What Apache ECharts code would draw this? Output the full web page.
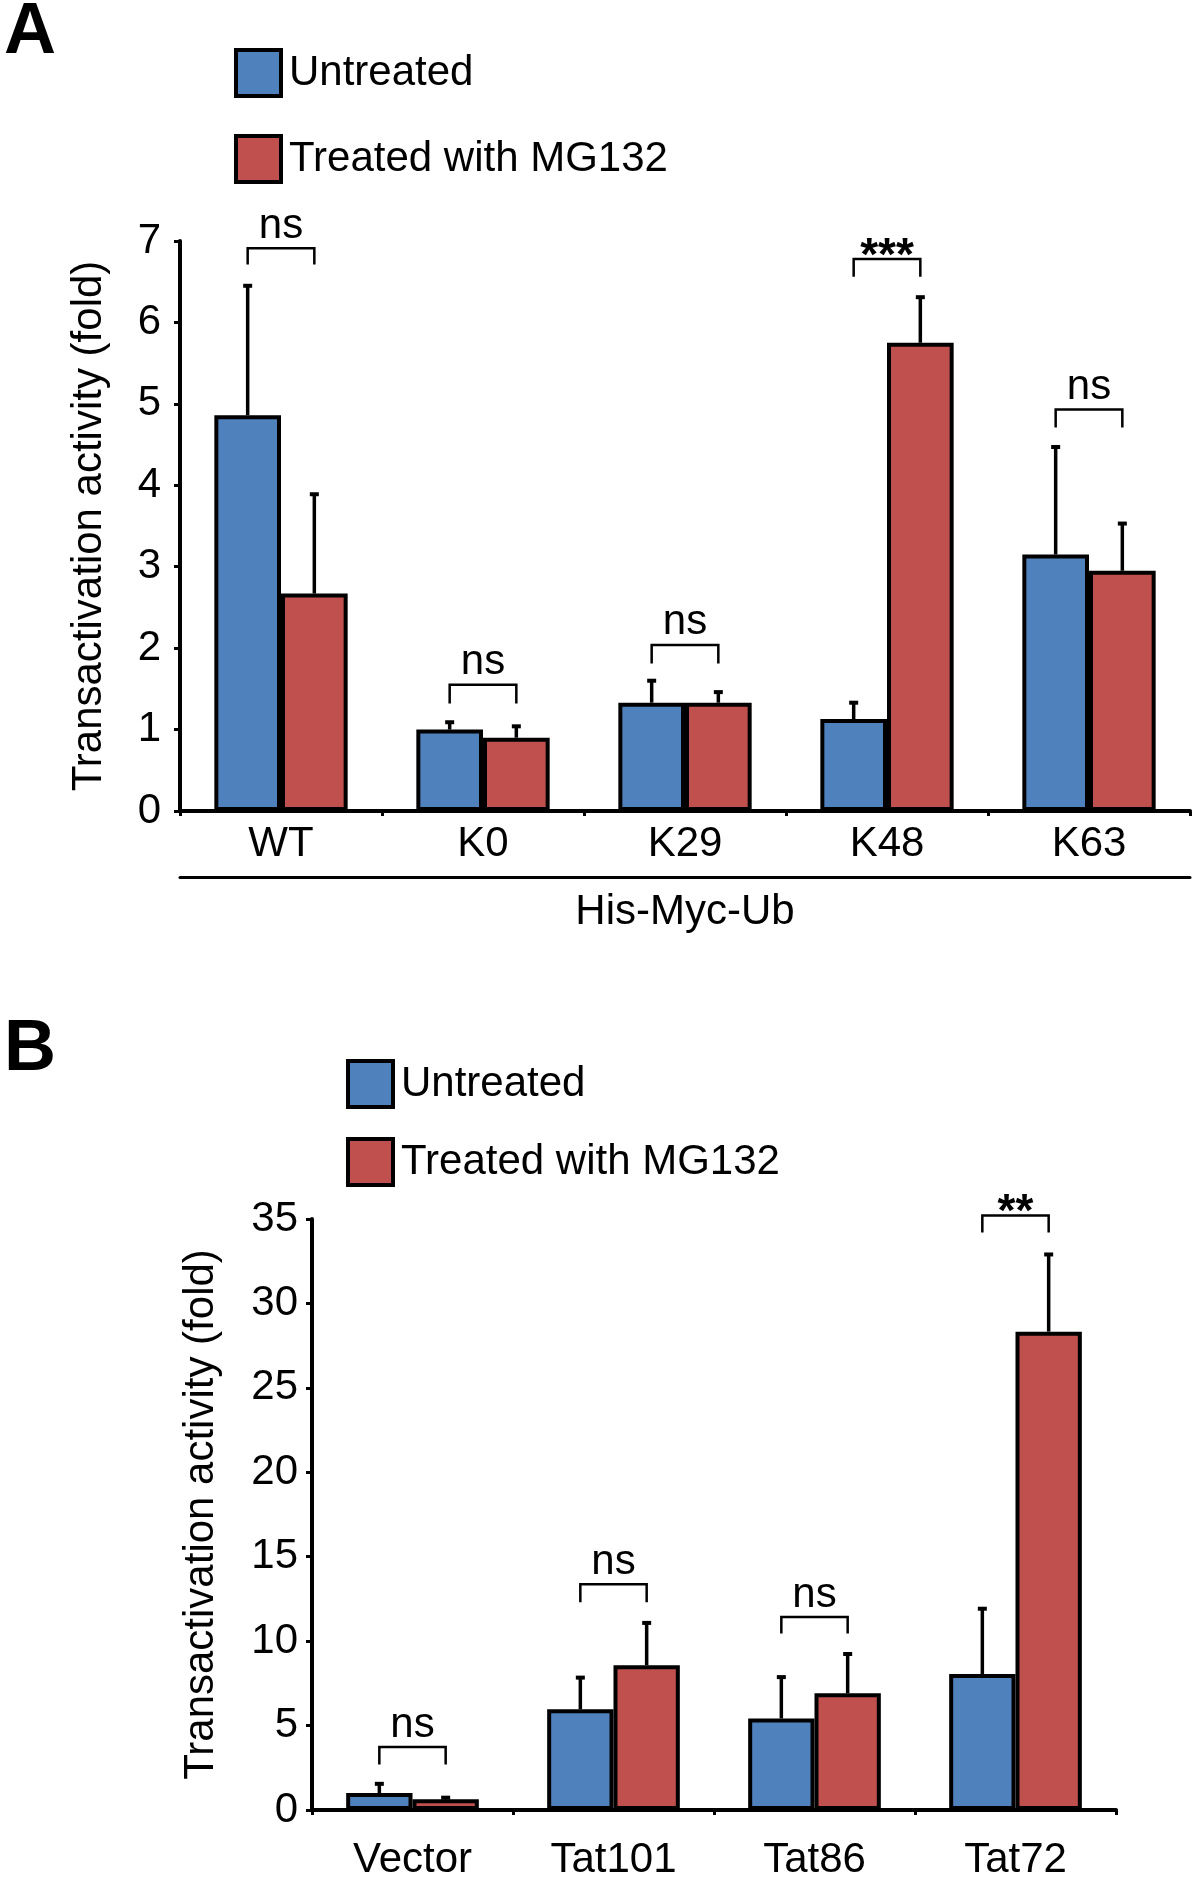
<!DOCTYPE html>
<html>
<head>
<meta charset="utf-8">
<script src="https://cdn.jsdelivr.net/npm/echarts@6/dist/echarts.min.js"></script>
<style>
html,body{margin:0;padding:0;background:#fff;}
#chart{width:1200px;height:1884px;}
</style>
</head>
<body>
<div id="chart"></div>
<script>
// ---------- Panel A data ----------
const catsA = ['WT', 'K0', 'K29', 'K48', 'K63'];
const untreatedA = [4.86, 1.00, 1.33, 1.13, 3.15];
const treatedA = [2.67, 0.90, 1.33, 5.75, 2.95];
const untreatedErrA = [1.59, 0.09, 0.27, 0.20, 1.32];
const treatedErrA = [1.22, 0.14, 0.13, 0.56, 0.58];
const sigA = ['ns', 'ns', 'ns', '***', 'ns'];
const bracketTopA = [6.91, 1.55, 2.04, 6.78, 4.93];
const bracketLegA = [6.71, 1.32, 1.81, 6.56, 4.71];

// ---------- Panel B data ----------
const catsB = ['Vector', 'Tat101', 'Tat86', 'Tat72'];
const untreatedB = [1.00, 5.96, 5.42, 8.05];
const treatedB = [0.63, 8.57, 6.91, 28.33];
const untreatedErrB = [0.55, 1.88, 2.45, 3.87];
const treatedErrB = [0.10, 2.51, 2.33, 4.57];
const sigB = ['ns', 'ns', 'ns', '**'];
const bracketTopB = [3.73, 13.37, 11.43, 35.2];
const bracketLegB = [2.69, 12.30, 10.45, 34.2];

const seriesNames = ['Untreated', 'Treated with MG132'];
const yTitle = 'Transactivation activity (fold)';
const groupTitle = 'His-Myc-Ub';

const BLUE = '#4F81BD', RED = '#C0504D';
const FONT = '"Liberation Sans", Arial, sans-serif';
const FS = 42;
const HALF_OFFSET = 0.165; // bar centre offset as a fraction of band width

function errData(u, ue, t, te) {
  const d = [];
  u.forEach((v, i) => d.push([i, v, ue[i], 0]));
  t.forEach((v, i) => d.push([i, v, te[i], 1]));
  return d;
}
function bracketData(top, leg) {
  return top.map((v, i) => [i, v, leg[i]]);
}
function errRender(params, api) {
  const i = api.value(0), v = api.value(1), e = api.value(2), side = api.value(3);
  const band = api.size([1, 0])[0];
  const c = api.coord([i, v]);
  const t = api.coord([i, v + e]);
  const x = c[0] + (side === 0 ? -1 : 1) * band * HALF_OFFSET;
  return {
    type: 'group',
    children: [
      { type: 'line', shape: { x1: x, y1: c[1], x2: x, y2: t[1] }, style: { stroke: '#000', lineWidth: 3.5 } },
      { type: 'line', shape: { x1: x - 4.5, y1: t[1], x2: x + 4.5, y2: t[1] }, style: { stroke: '#000', lineWidth: 4 } }
    ]
  };
}
function makeBracketRender(labels) {
  return function (params, api) {
    const i = api.value(0), top = api.value(1), leg = api.value(2);
    const band = api.size([1, 0])[0];
    const c = api.coord([i, top]);
    const l = api.coord([i, leg]);
    const x1 = c[0] - band * HALF_OFFSET, x2 = c[0] + band * HALF_OFFSET;
    const txt = labels[params.dataIndex];
    const star = txt.indexOf('*') >= 0;
    return {
      type: 'group',
      children: [
        { type: 'polyline', shape: { points: [[x1, l[1]], [x1, c[1]], [x2, c[1]], [x2, l[1]]] },
          style: { stroke: '#000', lineWidth: 2.5, fill: null } },
        { type: 'text', style: {
            text: txt, x: c[0], y: star ? c[1] - 2 : c[1] - 22,
            align: 'center', verticalAlign: 'middle',
            font: (star ? 'bold 46px ' : FS + 'px ') + FONT, fill: '#000' } }
      ]
    };
  };
}

const axisLineStyle = { color: '#000', width: 4 };

const chart = echarts.init(document.getElementById('chart'), null, { renderer: 'canvas' });
chart.setOption({
  animation: false,
  backgroundColor: '#fff',
  textStyle: { fontFamily: FONT, color: '#000' },
  title: [
    { text: 'A', left: 4, top: -3, padding: 0, textStyle: { fontSize: 72, fontWeight: 'bold', color: '#000', fontFamily: FONT } },
    { text: 'B', left: 4, top: 1014, padding: 0, textStyle: { fontSize: 72, fontWeight: 'bold', color: '#000', fontFamily: FONT } }
  ],
  legend: [
    { data: seriesNames, orient: 'vertical', left: 234, top: 48, padding: 0,
      itemWidth: 45, itemHeight: 46, itemGap: 36, icon: 'rect',
      itemStyle: { borderColor: '#000', borderWidth: 4 },
      textStyle: { fontSize: FS, color: '#000', fontFamily: FONT, padding: [0, 0, 0, 3] } },
    { data: seriesNames, orient: 'vertical', left: 346, top: 1059, padding: 0,
      itemWidth: 45, itemHeight: 46, itemGap: 28, icon: 'rect',
      itemStyle: { borderColor: '#000', borderWidth: 4 },
      textStyle: { fontSize: FS, color: '#000', fontFamily: FONT, padding: [0, 0, 0, 3] } }
  ],
  grid: [
    { left: 180, top: 241, width: 1010, height: 570, containLabel: false },
    { left: 312, top: 1219, width: 804, height: 591, containLabel: false }
  ],
  xAxis: [
    { type: 'category', gridIndex: 0, data: catsA,
      axisLine: { show: true, lineStyle: axisLineStyle },
      axisTick: { show: true, interval: 0, length: 5, lineStyle: { color: '#000', width: 3 } },
      axisLabel: { show: true, interval: 0, margin: 12, fontSize: FS, color: '#000', fontFamily: FONT },
      splitLine: { show: false } },
    { type: 'category', gridIndex: 0, data: catsA, position: 'bottom', offset: 66,
      axisLine: { show: true, lineStyle: { color: '#000', width: 3 } },
      axisTick: { show: false }, axisLabel: { show: false }, splitLine: { show: false },
      name: groupTitle, nameLocation: 'middle', nameGap: 14,
      nameTextStyle: { fontSize: FS, color: '#000', fontFamily: FONT } },
    { type: 'category', gridIndex: 1, data: catsB,
      axisLine: { show: true, lineStyle: axisLineStyle },
      axisTick: { show: true, interval: 0, length: 5, lineStyle: { color: '#000', width: 3 } },
      axisLabel: { show: true, interval: 0, margin: 29, fontSize: FS, color: '#000', fontFamily: FONT },
      splitLine: { show: false } }
  ],
  yAxis: [
    { type: 'value', gridIndex: 0, min: 0, max: 7, interval: 1,
      axisLine: { show: true, lineStyle: axisLineStyle },
      axisTick: { show: true, length: 6, lineStyle: { color: '#000', width: 3 } },
      axisLabel: { show: true, margin: 19, fontSize: FS, color: '#000', fontFamily: FONT },
      splitLine: { show: false },
      name: yTitle, nameLocation: 'middle', nameRotate: 90, nameGap: 70,
      nameTextStyle: { fontSize: FS, color: '#000', fontFamily: FONT } },
    { type: 'value', gridIndex: 1, min: 0, max: 35, interval: 5,
      axisLine: { show: true, lineStyle: axisLineStyle },
      axisTick: { show: true, length: 6, lineStyle: { color: '#000', width: 3 } },
      axisLabel: { show: true, margin: 14, fontSize: FS, color: '#000', fontFamily: FONT },
      splitLine: { show: false },
      name: yTitle, nameLocation: 'middle', nameRotate: 90, nameGap: 90,
      nameTextStyle: { fontSize: FS, color: '#000', fontFamily: FONT } }
  ],
  series: [
    { name: seriesNames[0], type: 'bar', xAxisIndex: 0, yAxisIndex: 0, data: untreatedA,
      barGap: '0%', barCategoryGap: '34%',
      itemStyle: { color: BLUE, borderColor: '#000', borderWidth: 4 } },
    { name: seriesNames[1], type: 'bar', xAxisIndex: 0, yAxisIndex: 0, data: treatedA,
      barGap: '0%', barCategoryGap: '34%',
      itemStyle: { color: RED, borderColor: '#000', borderWidth: 4 } },
    { name: seriesNames[0], type: 'bar', xAxisIndex: 2, yAxisIndex: 1, data: untreatedB,
      barGap: '0%', barCategoryGap: '34%',
      itemStyle: { color: BLUE, borderColor: '#000', borderWidth: 4 } },
    { name: seriesNames[1], type: 'bar', xAxisIndex: 2, yAxisIndex: 1, data: treatedB,
      barGap: '0%', barCategoryGap: '34%',
      itemStyle: { color: RED, borderColor: '#000', borderWidth: 4 } },
    { name: 'errA', type: 'custom', xAxisIndex: 0, yAxisIndex: 0, z: 3,
      data: errData(untreatedA, untreatedErrA, treatedA, treatedErrA), renderItem: errRender },
    { name: 'errB', type: 'custom', xAxisIndex: 2, yAxisIndex: 1, z: 3,
      data: errData(untreatedB, untreatedErrB, treatedB, treatedErrB), renderItem: errRender },
    { name: 'sigA', type: 'custom', xAxisIndex: 0, yAxisIndex: 0, z: 3,
      data: bracketData(bracketTopA, bracketLegA), renderItem: makeBracketRender(sigA) },
    { name: 'sigB', type: 'custom', xAxisIndex: 2, yAxisIndex: 1, z: 3, clip: false,
      data: bracketData(bracketTopB, bracketLegB), renderItem: makeBracketRender(sigB) }
  ]
});
</script>
</body>
</html>
